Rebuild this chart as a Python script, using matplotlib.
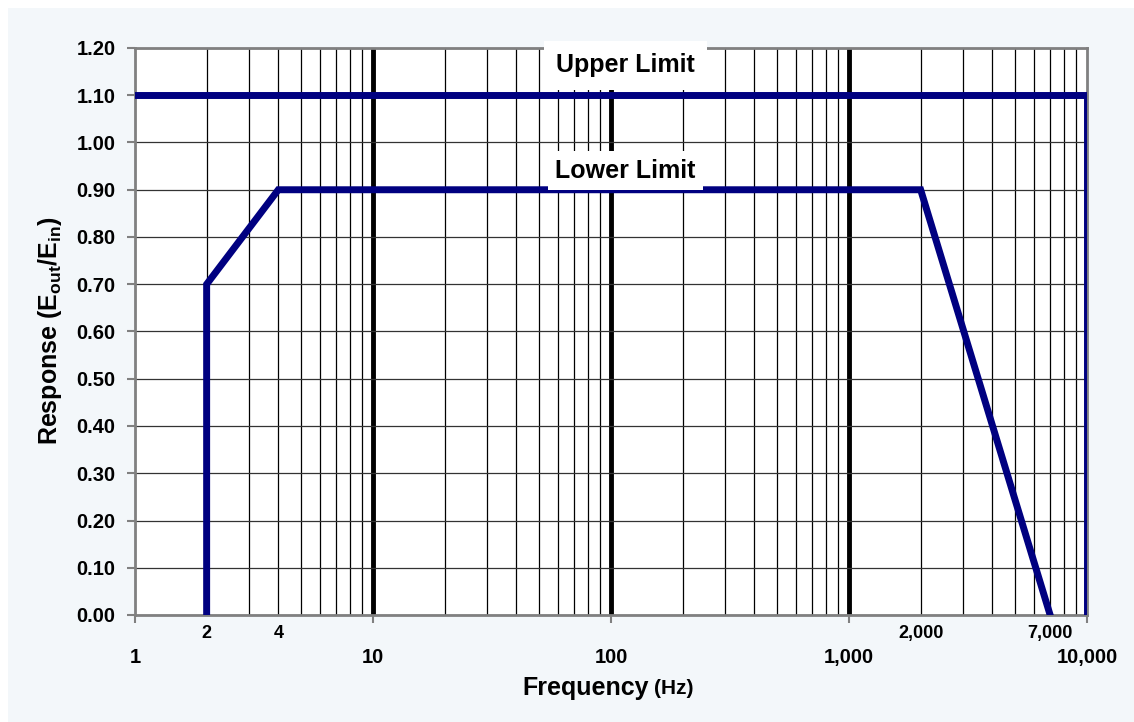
import matplotlib.pyplot as plt
from matplotlib.patches import Rectangle
import numpy as np

plt.rcParams['font.family'] = ['Liberation Sans', 'DejaVu Sans']
plt.rcParams['font.weight'] = 'bold'
plt.rcParams['mathtext.fontset'] = 'custom'
plt.rcParams['mathtext.rm'] = 'Liberation Sans:bold'
plt.rcParams['mathtext.it'] = 'Liberation Sans:bold'
plt.rcParams['mathtext.bf'] = 'Liberation Sans:bold'

# upper limit: flat at 1.10 then drops at 10 kHz
upper_f = [1, 10000, 10000]
upper_r = [1.10, 1.10, 0.0]

# lower limit
lower_f = [2, 2, 4, 2000, 7000]
lower_r = [0.0, 0.70, 0.90, 0.90, 0.0]

y_ticks = [0.0, 0.1, 0.2, 0.3, 0.4, 0.5, 0.6, 0.7, 0.8, 0.9, 1.0, 1.1, 1.2]
major_f = [1, 10, 100, 1000, 10000]
major_labels = ['1', '10', '100', '1,000', '10,000']
extra_f = [2, 4, 2000, 7000]
extra_labels = ['2', '4', '2,000', '7,000']
decade_lines = [10, 100, 1000]

navy = '#000080'

fig = plt.figure(figsize=(11.34, 7.22), dpi=100, facecolor='white')
fig.patches.append(Rectangle((8/1134, 0), 1, 1 - 8/722, transform=fig.transFigure,
                             facecolor='#f3f7fa', edgecolor='none', zorder=-10))
ax = fig.add_axes([135/1134, 1 - 615/722, (1087 - 135)/1134, (615 - 48)/722])
ax.set_facecolor('white')

ax.set_xscale('log')
ax.set_xlim(1, 10000)
ax.set_ylim(0, 1.2)

# grid
ax.set_xticks(major_f)
ax.set_xticklabels(major_labels, fontsize=14.5, fontweight='bold')
ax.xaxis.set_minor_locator(plt.matplotlib.ticker.LogLocator(base=10, subs=np.arange(2, 10)))
ax.xaxis.set_minor_formatter(plt.NullFormatter())
ax.grid(True, which='minor', axis='x', color='black', lw=0.9)
ax.grid(True, which='major', axis='y', color='#333333', lw=0.9)
for d in decade_lines:
    ax.axvline(d, color='black', lw=3.5, zorder=1)

ax.set_yticks(y_ticks)
ax.set_yticklabels(['%.2f' % v for v in y_ticks], fontsize=14.5, fontweight='bold')

ax.tick_params(axis='y', which='major', length=6, width=1.5, color='#808080', pad=8)
ax.tick_params(axis='x', which='major', length=6, width=1.5, color='#808080', pad=18)
ax.tick_params(axis='x', which='minor', length=0)
for s in ax.spines.values():
    s.set_color('#808080')
    s.set_linewidth(2)

ax.plot(upper_f, upper_r, color=navy, lw=5, zorder=3, solid_joinstyle='miter')
ax.plot(lower_f, lower_r, color=navy, lw=5, zorder=3, solid_joinstyle='miter')

for f, lab in zip(extra_f, extra_labels):
    ax.annotate(lab, xy=(f, 0), xycoords=('data', 'axes fraction'),
                xytext=(0, -13), textcoords='offset points',
                ha='center', va='center', fontsize=13, fontweight='bold')

box = dict(boxstyle='square,pad=0.5', facecolor='white', edgecolor='none')
ax.text(115, 1.164, 'Upper Limit', ha='center', va='center', fontsize=18,
        fontweight='bold', bbox=box, zorder=5, clip_on=False)
ax.text(115, 0.94, 'Lower Limit', ha='center', va='center', fontsize=18,
        fontweight='bold', bbox=dict(boxstyle='square,pad=0.3', facecolor='white',
                                     edgecolor='none'), zorder=5)

fig.text(649/1134, 1 - 688/722, 'Frequency', ha='right', va='center',
         fontsize=18, fontweight='bold')
fig.text(654/1134, 1 - 688/722, '(Hz)', ha='left', va='center',
         fontsize=15, fontweight='bold')
fig.text(50/1134, 1 - 331/722, r'Response (E$_{\mathrm{out}}$/E$_{\mathrm{in}}$)',
         rotation=90, ha='center', va='center', fontsize=18, fontweight='bold')

plt.savefig('out.png', dpi=100, facecolor=fig.get_facecolor())
